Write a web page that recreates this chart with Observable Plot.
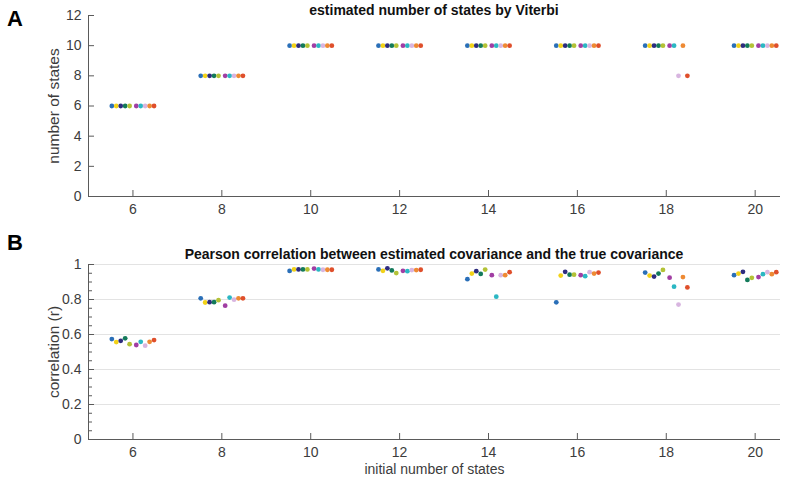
<!DOCTYPE html>
<html><head><meta charset="utf-8">
<script src="https://cdn.jsdelivr.net/npm/d3@7"></script>
<script src="https://cdn.jsdelivr.net/npm/@observablehq/plot@0.6"></script>
<style>
body{margin:0;background:#fff;font-family:"Liberation Sans",Arial,sans-serif;}
#wrap{position:relative;width:800px;height:477px;overflow:hidden;background:#fff;}
.panel{position:absolute;left:0;}
.lab{position:absolute;font-weight:bold;font-size:22px;color:#000;line-height:1;}
.title{position:absolute;font-weight:bold;font-size:14px;color:#111;white-space:nowrap;transform:translate(-50%,-50%);line-height:1;}
</style></head>
<body><div id="wrap"></div>
<script>
// ---- data ----
const groups = [6, 8, 10, 12, 14, 16, 18, 20];
const runs = ["run 1","run 2","run 3","run 4","run 5","run 6","run 7","run 8","run 9","run 10"];
const runColors = ["#2a6fb8","#f2d218","#2e2c7e","#137a5a","#b3c236","#a13ea3","#2bb7c3","#d8b5e0","#ee8a33","#df4f2b"];

// estimated number of states by Viterbi (rows = initial number of states, cols = runs)
const estimatedStates = [
  [6,6,6,6,6,6,6,6,6,6],
  [8,8,8,8,8,8,8,8,8,8],
  [10,10,10,10,10,10,10,10,10,10],
  [10,10,10,10,10,10,10,10,10,10],
  [10,10,10,10,10,10,10,10,10,10],
  [10,10,10,10,10,10,10,10,10,10],
  [10,10,10,10,10,10,10,8,10,8],
  [10,10,10,10,10,10,10,10,10,10]
];
// Pearson correlation between estimated and true covariance
const correlation = [
  [0.574,0.557,0.564,0.578,0.545,0.540,0.558,0.536,0.558,0.568],
  [0.807,0.783,0.785,0.785,0.796,0.765,0.811,0.799,0.807,0.807],
  [0.963,0.972,0.972,0.972,0.972,0.977,0.972,0.970,0.970,0.970],
  [0.972,0.964,0.978,0.966,0.951,0.964,0.962,0.968,0.968,0.970],
  [0.916,0.948,0.962,0.946,0.971,0.939,0.816,0.939,0.939,0.956],
  [0.784,0.937,0.958,0.942,0.942,0.939,0.933,0.956,0.948,0.954],
  [0.954,0.937,0.931,0.948,0.969,0.925,0.873,0.771,0.928,0.869],
  [0.939,0.948,0.958,0.912,0.924,0.928,0.945,0.956,0.945,0.956]
];
const xTicks = groups;
const yTicksA = [0,2,4,6,8,10,12];
const yTicksB = [0,0.2,0.4,0.6,0.8,1];
const yMinorB = d3.range(0, 1.0001, 0.05);

// ---- build tables ----
function spread(i){ return (i - 4.5) * 0.1 + (i < 5 ? -0.025 : 0.025); }
function table(matrix){
  const rows = [];
  groups.forEach((g, gi) => runs.forEach((r, i) => rows.push({group: g, run: r, x: g + spread(i), value: matrix[gi][i]})));
  return rows;
}
const rowsA = table(estimatedStates);
const rowsB = table(correlation);

const xDomain = [5, 20.57];
const axisColor = "#5a5a5a";
const textColor = "#3c3c3c";
const font = "'Liberation Sans', Arial, sans-serif";
const fmt = d3.format("~g");

function panel({rows, height, marginTop, marginBottom, yDomain, yTicks, minor, grid, ylabel, xlabel}){
  const marks = [];
  if (grid) marks.push(Plot.gridY(yTicks.filter(d => d > 0), {stroke: "#e3e3e3", strokeOpacity: 1}));
  marks.push(Plot.ruleX([xDomain[0]], {stroke: axisColor}));
  marks.push(Plot.ruleY([yDomain[0]], {stroke: axisColor}));
  if (minor) marks.push(Plot.axisY(minor, {tickSize: -4, tickFormat: () => "", stroke: axisColor, label: null}));
  marks.push(Plot.axisY(yTicks, {tickSize: -6, tickPadding: 13, stroke: axisColor, fill: textColor, tickFormat: fmt,
    label: null, fontSize: 14}));
  marks.push(Plot.axisX(xTicks, {tickSize: -6, tickPadding: 14, stroke: axisColor, fill: textColor,
    label: null, fontSize: 14}));
  marks.push(Plot.text([ylabel], {frameAnchor: "left", rotate: -90, dx: -34, fontSize: 15.5, fill: textColor,
    lineAnchor: "middle", textAnchor: "middle"}));
  if (xlabel) marks.push(Plot.text([xlabel], {frameAnchor: "bottom", dy: 30, fontSize: 14, fill: textColor, lineAnchor: "middle"}));
  marks.push(Plot.dot(rows, {x: "x", y: "value", fill: "run", r: 2.4}));
  return Plot.plot({
    width: 800, height, marginLeft: 88, marginRight: 20, marginTop, marginBottom,
    style: {fontFamily: font, fontSize: "14px", color: textColor, background: "transparent"},
    x: {domain: xDomain},
    y: {domain: yDomain},
    color: {domain: runs, range: runColors},
    marks
  });
}

const wrap = document.getElementById("wrap");
const a = panel({rows: rowsA, height: 225, marginTop: 15, marginBottom: 29, yDomain: [0, 12], yTicks: yTicksA,
  minor: null, grid: false, ylabel: "number of states", xlabel: null});
a.classList.add("panel"); a.style.top = "0px";
const b = panel({rows: rowsB, height: 252, marginTop: 39, marginBottom: 38, yDomain: [0, 1], yTicks: yTicksB,
  minor: yMinorB, grid: true, ylabel: "correlation (r)", xlabel: "initial number of states"});
b.classList.add("panel"); b.style.top = "225px";
wrap.append(a, b);

function addText(cls, txt, x, y){
  const d = document.createElement("div"); d.className = cls; d.textContent = txt;
  d.style.left = x + "px"; d.style.top = y + "px"; wrap.append(d);
}
addText("lab", "A", 7, 8);
addText("lab", "B", 7, 232);
addText("title", "estimated number of states by Viterbi", 434, 10);
addText("title", "Pearson correlation between estimated covariance and the true covariance", 434, 254);
</script>
</body></html>
